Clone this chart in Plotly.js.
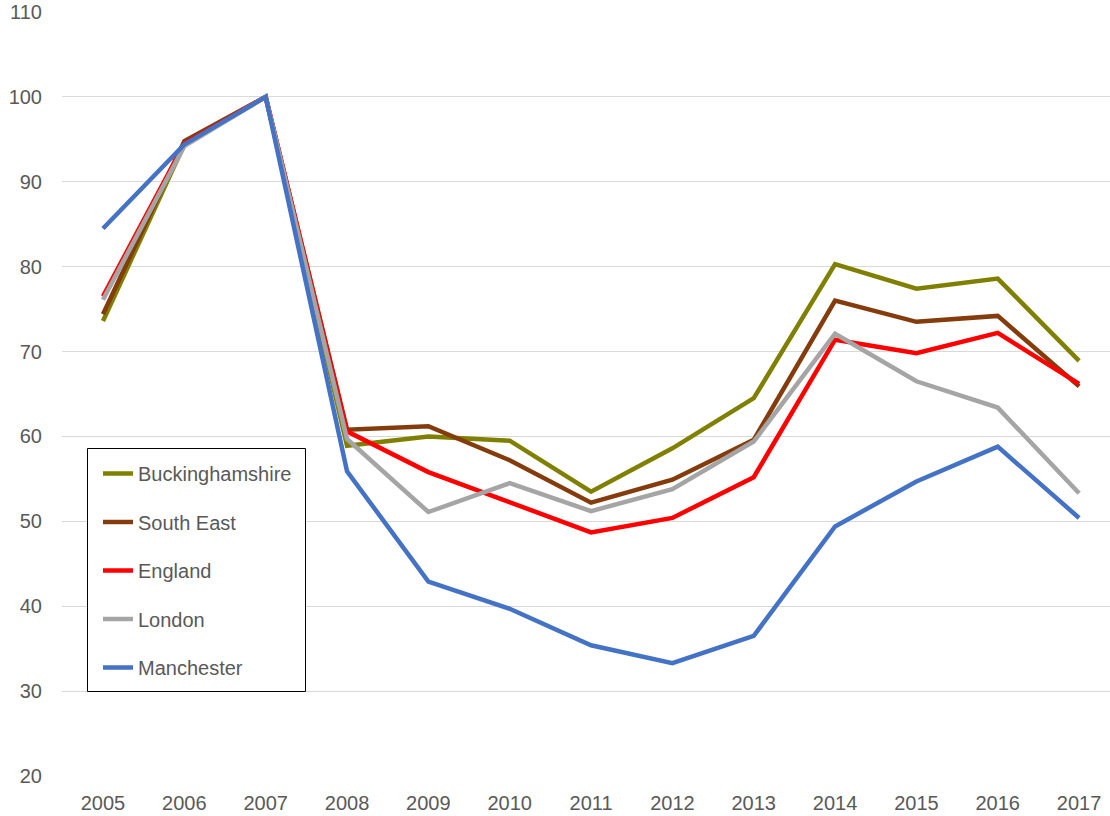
<!DOCTYPE html>
<html>
<head>
<meta charset="utf-8">
<script src="https://cdn.plot.ly/plotly-3.0.1.min.js"></script>
<style>html,body{margin:0;padding:0;background:#fff;}#chart{width:1110px;height:816px;}</style>
</head>
<body>
<div id="chart"></div>
<script>
const years = ["2005","2006","2007","2008","2009","2010","2011","2012","2013","2014","2015","2016","2017"];
const buckinghamshire = [73.6, 94.4, 100, 58.9, 60.0, 59.5, 53.5, 58.6, 64.5, 80.3, 77.4, 78.6, 68.9];
const southEast       = [74.4, 94.8, 100, 60.8, 61.2, 57.2, 52.2, 54.9, 59.6, 76.0, 73.5, 74.2, 65.9];
const england         = [76.5, 94.5, 100, 60.6, 55.8, 52.3, 48.7, 50.4, 55.2, 71.4, 69.8, 72.2, 66.2];
const london          = [76.1, 94.2, 100, 59.7, 51.1, 54.5, 51.2, 53.8, 59.4, 72.1, 66.5, 63.4, 53.3];
const manchester      = [84.5, 94.4, 100, 55.9, 42.9, 39.7, 35.4, 33.3, 36.5, 49.4, 54.7, 58.8, 50.4];

const seriesNames = ["Buckinghamshire","South East","England","London","Manchester"];
const seriesData = [buckinghamshire, southEast, england, london, manchester];
const seriesColors = ["#808000","#843C0C","#FF0000","#A5A5A5","#4472C4"];

const traces = seriesNames.map((n,i)=>({
  type:"scatter", mode:"lines", name:n, x:years, y:seriesData[i],
  line:{color:seriesColors[i], width:4.5}, legendgroup:"g"+i, hoverinfo:"skip"
}));

const W = 1110, H = 816, ML = 62, MT = 12, MB = 40;
const pw = W - ML, ph = H - MT - MB;
const px = v => (v - ML) / pw;
const py = v => (H - MB - v) / ph;

const layout = {
  width:W, height:H,
  margin:{l:ML, r:0, t:MT, b:MB},
  paper_bgcolor:"#fff", plot_bgcolor:"#fff",
  font:{family:"Liberation Sans, Arial, sans-serif", size:20, color:"#595959"},
  xaxis:{type:"category", range:[-0.504, 12.38], showgrid:false, zeroline:false, showline:false,
         ticks:"", tickfont:{size:20, color:"#595959"}, ticklabelstandoff:13},
  yaxis:{range:[20,110], dtick:10, showgrid:true, gridcolor:"#D9D9D9", gridwidth:1,
         zeroline:false, showline:false, ticks:"", tickfont:{size:20, color:"#595959"}, ticklabelstandoff:19},
  showlegend:true,
  legend:{x:px(98), y:py(454), xanchor:"left", yanchor:"top", bgcolor:"rgba(0,0,0,0)", borderwidth:0,
          font:{size:20, color:"#595959"}, tracegroupgap:19.5, traceorder:"grouped"},
  shapes:[{type:"rect", xref:"paper", yref:"paper", x0:px(87.5), x1:px(305.5), y0:py(448.5), y1:py(691.5),
           line:{color:"#000", width:1}, fillcolor:"#fff", layer:"above"}]
};
Plotly.newPlot("chart", traces, layout, {staticPlot:true, displayModeBar:false});
</script>
</body>
</html>
